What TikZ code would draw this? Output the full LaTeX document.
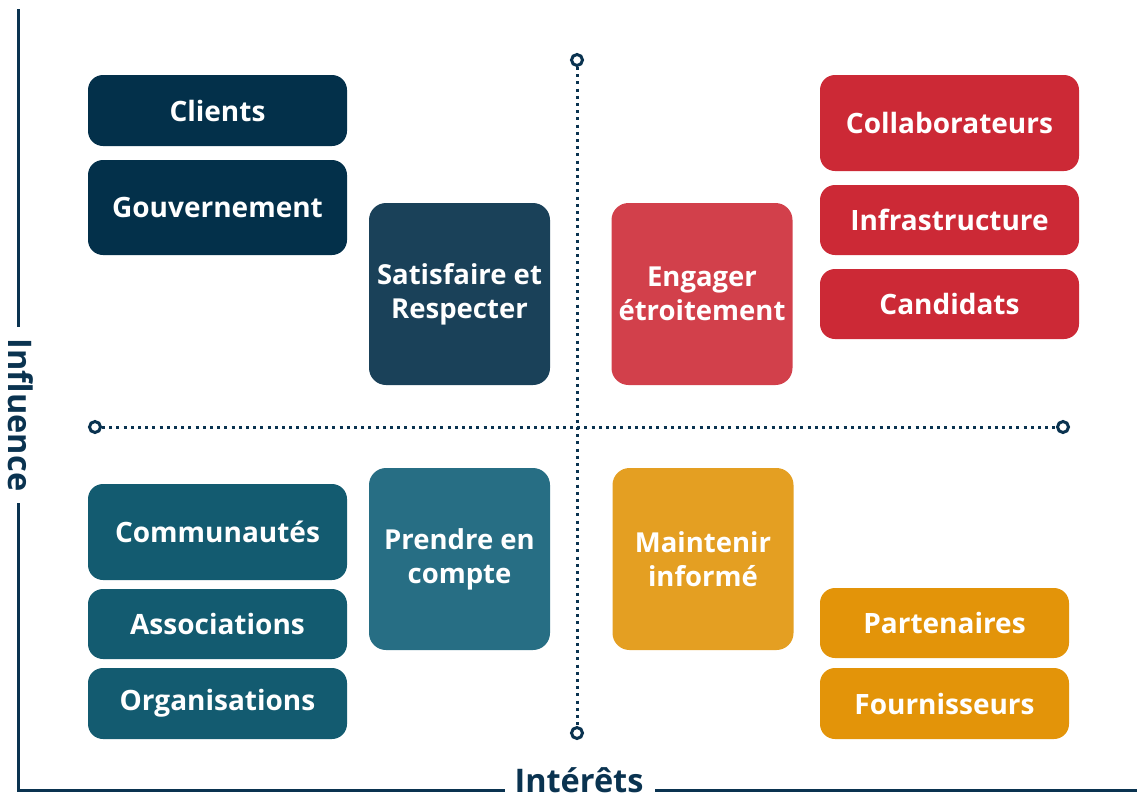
\documentclass[tikz,border=0pt]{standalone}
\usepackage{fontspec}
\setmainfont{Open Sans}
\definecolor{navy}{HTML}{03304A}
\definecolor{satis}{HTML}{1A4159}
\definecolor{engag}{HTML}{D2404B}
\definecolor{redb}{HTML}{CC2936}
\definecolor{teal}{HTML}{135B70}
\definecolor{prend}{HTML}{276E84}
\definecolor{maint}{HTML}{E49F22}
\definecolor{orng}{HTML}{E39409}
\definecolor{axis}{HTML}{0A3350}
\tikzset{
  box/.style={rectangle, rounded corners=15pt, text=white, align=center, inner sep=0pt,
    font=\fontsize{28}{32}\selectfont\bfseries},
  bigbox/.style={box, rounded corners=17pt, minimum width=181pt, minimum height=182pt,
    font=\fontsize{27.5}{34}\selectfont\bfseries},
  axisline/.style={draw=axis, line width=3pt},
  dotline/.style={draw=axis, line width=3pt, dash pattern=on 3pt off 4.2pt},
  endring/.style={circle, draw=axis, line width=3pt, fill=white, minimum size=11pt, inner sep=0pt},
  axislabel/.style={text=axis, inner sep=0pt, font=\fontsize{32.5}{36}\selectfont\bfseries}
}
\begin{document}
\begin{tikzpicture}[x=1pt,y=-1pt]
\useasboundingbox (0,0) rectangle (1137,798);
% axes
\node[axislabel, rotate=-90] (inf) at (21,415) {Influence};
\node[axislabel, anchor=base] (int) at (579,792) {Intérêts};
\coordinate (vtop) at (18.5,9);
\coordinate (vmid1) at (18.5,327);
\coordinate (vmid2) at (18.5,503);
\coordinate (corner) at (18.5,790);
\coordinate (hmid1) at (505,790);
\coordinate (hmid2) at (655,790);
\coordinate (hend) at (1137,790);
\draw[axisline] (vtop) -- (vmid1);
\draw[axisline] (vmid2) -- (corner) -- (hmid1);
\draw[axisline] (hmid2) -- (hend);
% dotted quadrant lines
\node[endring] (dt) at (577,60) {};
\node[endring] (db) at (577,733) {};
\node[endring] (dl) at (95,427) {};
\node[endring] (dr) at (1063,427) {};
\draw[dotline] (dt) -- (db);
\draw[dotline] (dl) -- (dr);
% top-left
\node[box, fill=navy, minimum width=259pt, minimum height=71pt] (cli) at (217.5,110.5) {Clients};
\node[box, fill=navy, minimum width=259pt, minimum height=95pt] (gouv) at (217.5,207.5) {Gouvernement};
\node[bigbox, fill=satis] (sat) at (459.5,294) {Satisfaire et\\Respecter};
% top-right
\node[bigbox, fill=engag] (eng) at (702,294) {Engager\\étroitement};
\node[box, fill=redb, minimum width=259pt, minimum height=96pt] (col) at (949.5,123) {Collaborateurs};
\node[box, fill=redb, minimum width=259pt, minimum height=70pt] (infra) at (949.5,220) {Infrastructure};
\node[box, fill=redb, minimum width=259pt, minimum height=70pt] (cand) at (949.5,304) {Candidats};
% bottom-left
\node[box, fill=teal, minimum width=259pt, minimum height=96pt] (com) at (217.5,532) {Communautés};
\node[box, fill=teal, minimum width=259pt, minimum height=70pt] (asso) at (217.5,624) {Associations};
\node[box, fill=teal, minimum width=259pt, minimum height=71pt] (org) at (217.5,703.5) {Organisations};
\node[bigbox, fill=prend] (pre) at (459.5,559) {Prendre en\\compte};
% bottom-right
\node[bigbox, fill=maint] (mai) at (703,559) {Maintenir\\informé};
\node[box, fill=orng, minimum width=249pt, minimum height=70pt] (part) at (944.5,623) {Partenaires};
\node[box, fill=orng, minimum width=249pt, minimum height=71pt] (four) at (944.5,703.5) {Fournisseurs};
\end{tikzpicture}
\end{document}
